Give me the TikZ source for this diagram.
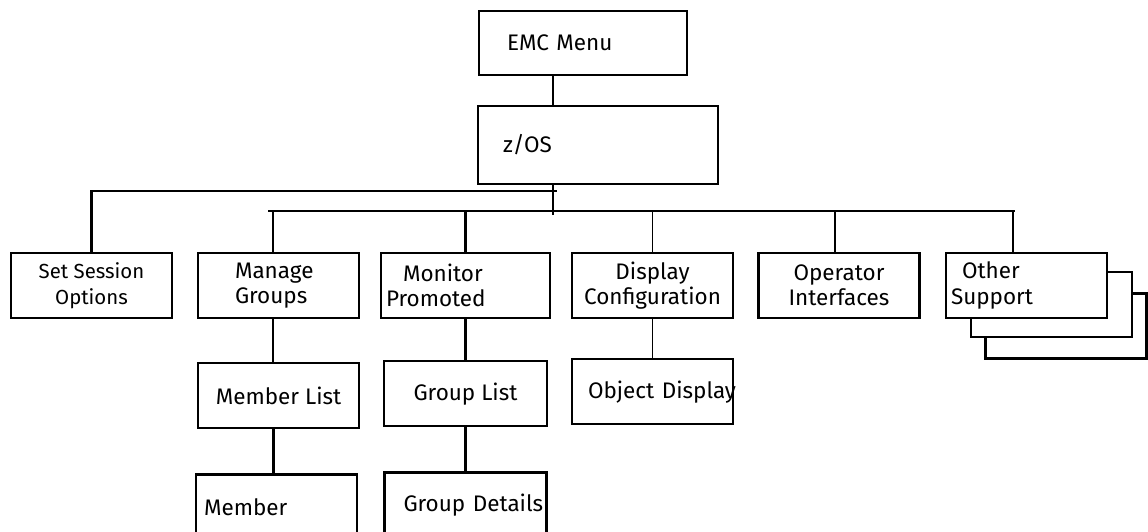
\documentclass[tikz,border=0pt]{standalone}
\usepackage{fontspec}
\setsansfont{Fira Sans}
\usetikzlibrary{positioning}

\begin{document}
\begin{tikzpicture}[
    x=0.02cm, y=-0.02cm,
    node distance=0.86cm,
    every node/.style={draw, rectangle, line width=1.3pt, fill=white, minimum width=3.22cm, minimum height=1.3cm, inner sep=0pt, align=center, font=\sffamily\fontsize{12.8}{14.4}\selectfont},
    lefttext/.style={text width=#1, align=left},
    smalltext/.style={font=\sffamily\fontsize{11.6}{14.6}\selectfont},
    line/.style={line width=1.3pt},
    thinline/.style={line width=0.7pt}
]
\clip (0,0) rectangle (1148,531);

\node[lefttext=4.16cm, minimum height=1.28cm] (1) at (583,43) {\hspace*{0.56cm}EMC Menu};
\node[lefttext=4.8cm, minimum height=1.56cm] (2) at (598,145) {\hspace*{0.5cm}z/OS};

\node[smalltext] (3) at (91.5,285.5) {Set Session\\Options};
\node[lefttext=3.22cm] (4) at (278.5,285.5) {\hspace*{0.74cm}Manage\\\hspace*{0.74cm}Groups};
\node[lefttext=3.38cm] (5) at (465.5,285.5) {\hspace*{0.44cm}Monitor\\\hspace*{0.1cm}Promoted};
\node (6) at (652.5,285.5) {Display\\Configuration};
\node (7) at (839,285.5) {Operator\\Interfaces};
\node (14) at (1066,326) {};
\node (15) at (1051.5,304.5) {};
\node[lefttext=3.22cm] (8) at (1026.5,285.5) {\hspace*{0.32cm}Other\\\hspace*{0.1cm}Support};

\node[below=0.86cm of 4] (9) {Member List};
\node[lefttext=3.22cm, below=0.88cm of 9, xshift=-0.04cm] (10) {\hspace*{0.16cm}Member};
\node[minimum width=3.26cm, below=0.82cm of 5] (11) {Group List};
\node[lefttext=3.24cm, below=0.88cm of 11] (12) {\hspace*{0.38cm}Group Details};
\node[lefttext=3.22cm, below=0.78cm of 6] (13) {\hspace*{0.32cm}\mbox{Object Display}};

\coordinate (s) at (553,215);
\coordinate (a) at (557,191);
\coordinate (l) at (268,211);
\coordinate (r) at (1015,211);

\draw[line] (1.south -| s) -- (2.north -| s);
\draw[line] (2.south -| s) -- (s);
\draw[line] (3.north) |- (a);
\draw[line] (l) -- (r);
\draw[line] ([xshift=-0.11cm]4.north) -- ([xshift=-0.11cm]4.north |- l);
\draw[line] (5.north) -- (5.north |- l);
\draw[thinline] (6.north) -- (6.north |- l);
\draw[line] ([xshift=-0.08cm]7.north) -- ([xshift=-0.08cm]7.north |- l);
\draw[line] ([xshift=-0.27cm]8.north) -- ([xshift=-0.27cm]8.north |- l);

\draw[line] ([xshift=-0.11cm]4.south) -- ([xshift=-0.11cm]4.south |- 9.north);
\draw[line] ([xshift=-0.1cm]9.south) -- ([xshift=-0.1cm]9.south |- 10.north);
\draw[line] (11) -- (5);
\draw[line] (11) -- (12);
\draw[thinline] (6) -- (13);

\end{tikzpicture}
\end{document}
